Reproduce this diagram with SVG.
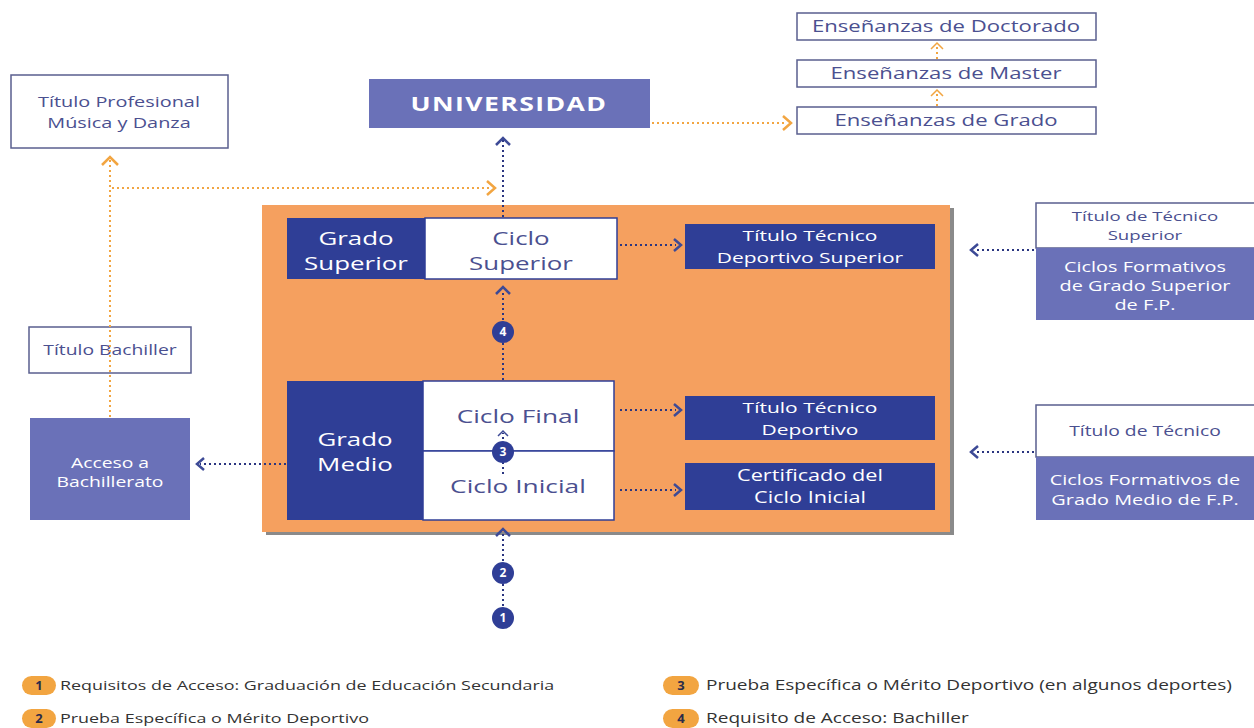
<svg xmlns="http://www.w3.org/2000/svg" width="1254" height="728" viewBox="0 0 1254 728">
<defs>
<style>
text{font-family:"Open Sans","Noto Sans",sans-serif;font-weight:500;transform-box:fill-box;transform-origin:center;transform:scaleX(1.4);}
.wb{fill:#ffffff;stroke:#5a5f8f;stroke-width:1.5;}
.dk{fill:#2f3e96;}
.lv{fill:#6a71b8;}
.lt{fill:#4b5090;text-anchor:middle;}
.wt{fill:#ffffff;text-anchor:middle;}
.od{stroke:#f2a541;stroke-width:2;stroke-dasharray:2 3;fill:none;}
.bd{stroke:#2a3580;stroke-width:2;stroke-dasharray:2 3;fill:none;}
.oh{stroke:#f2a541;stroke-width:2.5;fill:none;}
.bh{stroke:#3d4a96;stroke-width:2.5;fill:none;}
text.num{fill:#ffffff;font-size:12px;font-weight:bold;text-anchor:middle;transform:none;}
text.leg{fill:#333;font-weight:400;transform-origin:left;}
text.bn{fill:#2b2b4a;font-size:13px;font-weight:bold;text-anchor:middle;transform:none;}
.pill{fill:#f2a541;}
</style>
</defs>

<g id="ensenanzas-deportivas">
<rect x="266" y="208" width="688" height="327" fill="#8a8a8a"/>
<rect x="262" y="205" width="688" height="327" fill="#f5a05f"/>
</g>

<g id="titulo-profesional">
<rect class="wb" x="11" y="75" width="217" height="73"/>
<text class="lt" x="119" y="107" font-size="14.2">Título Profesional</text>
<text class="lt" x="119" y="128" font-size="14.2">Música y Danza</text>
</g>

<g id="universidad">
<rect class="lv" x="369" y="79" width="281" height="49"/>
<text class="wt" x="509" y="111" style="font-size:19px;font-weight:bold;letter-spacing:1px">UNIVERSIDAD</text>
</g>

<g id="doctorado">
<rect class="wb" x="797" y="13" width="299" height="27"/>
<text class="lt" x="946" y="32" font-size="15.8">Enseñanzas de Doctorado</text>
</g>
<g id="master">
<rect class="wb" x="797" y="60" width="299" height="27"/>
<text class="lt" x="946" y="79" font-size="15.8">Enseñanzas de Master</text>
</g>
<g id="grado-univ">
<rect class="wb" x="797" y="107" width="299" height="27"/>
<text class="lt" x="946" y="126" font-size="15.8">Enseñanzas de Grado</text>
</g>

<g id="grado-superior">
<rect class="dk" x="287" y="218" width="138" height="61"/>
<text class="wt" x="356" y="245" font-size="18.5">Grado</text>
<text class="wt" x="356" y="270" font-size="18.5">Superior</text>
</g>
<g id="ciclo-superior">
<rect x="425" y="218" width="192" height="61" fill="#fff" stroke="#2f3e96" stroke-width="1.5"/>
<text class="lt" x="521" y="245" font-size="18.5">Ciclo</text>
<text class="lt" x="521" y="270" font-size="18.5">Superior</text>
</g>
<g id="titulo-tecnico-deportivo-superior">
<rect class="dk" x="685" y="224" width="250" height="45"/>
<text class="wt" x="810" y="241" font-size="15">Título Técnico</text>
<text class="wt" x="810" y="263" font-size="15">Deportivo Superior</text>
</g>

<g id="grado-medio">
<rect class="dk" x="287" y="381" width="136" height="139"/>
<text class="wt" x="355" y="446" font-size="18.5">Grado</text>
<text class="wt" x="355" y="471" font-size="18.5">Medio</text>
</g>
<g id="ciclo-final">
<rect x="423" y="381" width="191" height="70" fill="#fff" stroke="#2f3e96" stroke-width="1.5"/>
<text class="lt" x="518" y="423" font-size="18.8">Ciclo Final</text>
</g>
<g id="ciclo-inicial">
<rect x="423" y="451" width="191" height="69" fill="#fff" stroke="#2f3e96" stroke-width="1.5"/>
<text class="lt" x="518" y="493" font-size="18.8">Ciclo Inicial</text>
</g>
<g id="titulo-tecnico-deportivo">
<rect class="dk" x="685" y="396" width="250" height="44"/>
<text class="wt" x="810" y="413" font-size="15">Título Técnico</text>
<text class="wt" x="810" y="435" font-size="15">Deportivo</text>
</g>
<g id="certificado">
<rect class="dk" x="685" y="463" width="250" height="47"/>
<text class="wt" x="810" y="481" font-size="15.5">Certificado del</text>
<text class="wt" x="810" y="503" font-size="15.5">Ciclo Inicial</text>
</g>

<g id="acceso-bachillerato">
<rect class="lv" x="30" y="418" width="160" height="102"/>
<text class="wt" x="110" y="468" font-size="13.8">Acceso a</text>
<text class="wt" x="110" y="487" font-size="13.8">Bachillerato</text>
</g>
<g id="titulo-bachiller">
<rect class="wb" x="29" y="327" width="162" height="46"/>
<text class="lt" x="110" y="355" font-size="13.8">Título Bachiller</text>
</g>

<g id="fp-superior">
<rect class="wb" x="1036" y="203" width="220" height="45"/>
<text class="lt" x="1145" y="221" font-size="13.3">Título de Técnico</text>
<text class="lt" x="1145" y="240" font-size="13.3">Superior</text>
<rect class="lv" x="1036" y="248" width="220" height="72"/>
<text class="wt" x="1145" y="272" font-size="14.2">Ciclos Formativos</text>
<text class="wt" x="1145" y="291" font-size="14.2">de Grado Superior</text>
<text class="wt" x="1145" y="310" font-size="14.2">de F.P.</text>
</g>
<g id="fp-medio">
<rect class="wb" x="1036" y="405" width="220" height="52"/>
<text class="lt" x="1145" y="436" font-size="13.8">Título de Técnico</text>
<rect class="lv" x="1036" y="457" width="220" height="63"/>
<text class="wt" x="1145" y="485" font-size="14.2">Ciclos Formativos de</text>
<text class="wt" x="1145" y="505" font-size="14.2">Grado Medio de F.P.</text>
</g>

<g id="connectors">
<path class="od" d="M110,417 V160"/><path class="oh" d="M102,165 L110,157 L118,165"/>
<path class="od" d="M112,188 H490"/><path class="oh" d="M487,181 L495,188 L487,195"/>
<path class="od" d="M652,123 H785"/><path class="oh" d="M783,116 L791,123 L783,130"/>
<path class="od" d="M937,106 V91"/><path class="oh" d="M931,96 L937,90 L943,96" style="stroke-width:1.5"/>
<path class="od" d="M937,59 V44"/><path class="oh" d="M931,49 L937,43 L943,49" style="stroke-width:1.5"/>
<path class="bd" d="M503,217 V140"/><path class="bh" d="M496,145 L503,138 L510,145"/>
<path class="bd" d="M503,380 V290"/><path class="bh" d="M496,294 L503,287 L510,294"/>
<path class="bd" d="M503,606 V533"/><path class="bh" d="M496,536 L503,529 L510,536"/>
<path class="bd" d="M503,474 V433"/><path class="bh" d="M498,436 L503,431 L508,436" style="stroke-width:1.5"/>
<path class="bd" d="M620,245 H676"/><path class="bh" d="M674,239 L681,245 L674,251"/>
<path class="bd" d="M620,410 H676"/><path class="bh" d="M674,404 L681,410 L674,416"/>
<path class="bd" d="M620,490 H676"/><path class="bh" d="M674,484 L681,490 L674,496"/>
<path class="bd" d="M286,464 H200"/><path class="bh" d="M204,458 L197,464 L204,470"/>
<path class="bd" d="M1034,250 H975"/><path class="bh" d="M978,244 L971,250 L978,256"/>
<path class="bd" d="M1034,452 H975"/><path class="bh" d="M978,446 L971,452 L978,458"/>
</g>

<g id="badge-4"><circle cx="503" cy="332" r="11" fill="#2f3e96"/><text class="num" x="503" y="336">4</text></g>
<g id="badge-3"><circle cx="503" cy="452" r="11" fill="#2f3e96"/><text class="num" x="503" y="456">3</text></g>
<g id="badge-2"><circle cx="503" cy="573" r="11" fill="#2f3e96"/><text class="num" x="503" y="577">2</text></g>
<g id="badge-1"><circle cx="503" cy="618" r="11" fill="#2f3e96"/><text class="num" x="503" y="622">1</text></g>

<g id="legend">
<rect class="pill" x="22" y="676" width="34" height="19" rx="9.5"/><text class="bn" x="39" y="690">1</text>
<text class="leg" x="60" y="690" font-size="12.8">Requisitos de Acceso: Graduación de Educación Secundaria</text>
<rect class="pill" x="22" y="709" width="34" height="19" rx="9.5"/><text class="bn" x="39" y="723">2</text>
<text class="leg" x="60" y="723" font-size="12.8">Prueba Específica o Mérito Deportivo</text>
<rect class="pill" x="663" y="676" width="36" height="19" rx="9.5"/><text class="bn" x="681" y="690">3</text>
<text class="leg" x="706" y="690" font-size="13.6">Prueba Específica o Mérito Deportivo (en algunos deportes)</text>
<rect class="pill" x="663" y="709" width="36" height="19" rx="9.5"/><text class="bn" x="681" y="723">4</text>
<text class="leg" x="706" y="723" font-size="13.6">Requisito de Acceso: Bachiller</text>
</g>
</svg>
